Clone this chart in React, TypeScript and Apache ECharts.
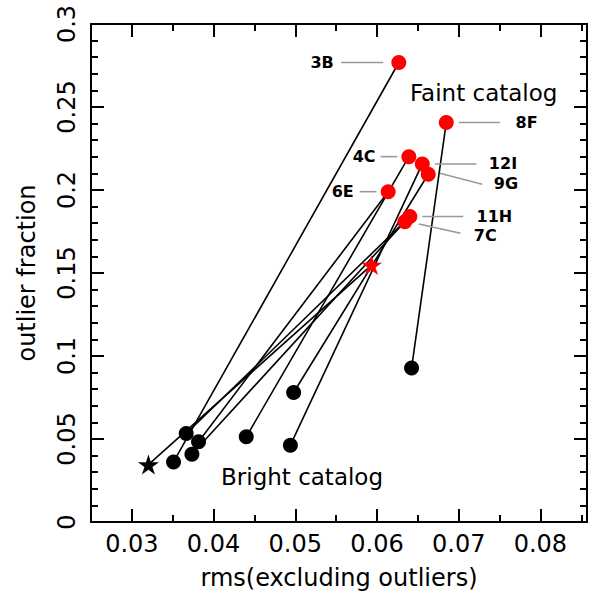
import React, { useEffect, useRef } from 'react';
import * as echarts from 'echarts';

// ---- data ----
const fields = ['3B', '4C', '6E', '7C', '8F', '9G', '11H', '12I'];
const brightRms = [0.0351, 0.0440, 0.03816, 0.03735, 0.06423, 0.0498, 0.03665, 0.0494];
const brightFrac = [0.0362, 0.0513, 0.0483, 0.0408, 0.0927, 0.0780, 0.0533, 0.0463];
const faintRms = [0.06267, 0.0639, 0.06137, 0.06341, 0.06848, 0.06627, 0.06402, 0.06554];
const faintFrac = [0.2768, 0.2201, 0.199, 0.1809, 0.2407, 0.2095, 0.184, 0.2157];
const meanBright = [0.03203, 0.0346];
const meanFaint = [0.05933, 0.1548];
const xTickValues = [0.03, 0.04, 0.05, 0.06, 0.07, 0.08];

// ---- annotation layout (pixel offsets from each faint point) ----
const labelLayout: Record<string, { l1: number[]; l2: number[]; t: number[]; align: string }> = {
  '3B': { l1: [-57.6, 0], l2: [-15.6, 0], t: [-65, 0], align: 'right' },
  '8F': { l1: [12.6, 0], l2: [53.6, 0], t: [69.3, 0], align: 'left' },
  '4C': { l1: [-28.3, 0], l2: [-11.6, 0], t: [-33.3, 0], align: 'right' },
  '12I': { l1: [12.6, 0], l2: [54.3, 0], t: [66.6, 0], align: 'left' },
  '9G': { l1: [11.6, -1], l2: [54, 10], t: [65.6, 9], align: 'left' },
  '6E': { l1: [-28.4, 0], l2: [-11.7, 0], t: [-34.4, 0], align: 'right' },
  '11H': { l1: [12.4, 0], l2: [53.4, 0], t: [66.7, 0], align: 'left' },
  '7C': { l1: [14, 2.3], l2: [55.7, 11.6], t: [69, 13.3], align: 'left' },
};

const FONT = '"DejaVu Sans", sans-serif';
const STAR = 'path://M50,0L61.23,34.55L97.55,34.55L68.17,55.9L79.39,90.45L50,69.1L20.61,90.45L31.83,55.9L2.45,34.55L38.77,34.55Z';
const X_MIN = 0.025;
const X_MAX = 0.0857;

export default function App() {
  const ref = useRef<HTMLDivElement>(null);
  useEffect(() => {
    if (!ref.current) return;
    const chart = echarts.init(ref.current, undefined, { renderer: 'svg' });
    const tickStyle = { color: '#000', width: 2 };
    const lineStyle = { color: '#000', width: 2 };
    const majorX = (pos: string, labels: boolean) => ({
      type: 'value',
      position: pos,
      min: X_MIN,
      max: X_MAX,
      axisLine: { show: true, onZero: false, lineStyle },
      axisTick: { show: true, inside: true, length: 13, lineStyle: tickStyle, customValues: xTickValues },
      axisLabel: labels
        ? {
            show: true,
            customValues: xTickValues,
            formatter: (v: number) => v.toFixed(2),
            fontSize: 24,
            fontFamily: FONT,
            color: '#000',
            margin: 10,
          }
        : { show: false },
      splitLine: { show: false },
      ...(labels
        ? {
            name: 'rms(excluding outliers)',
            nameLocation: 'middle',
            nameGap: 44,
            nameTextStyle: { fontSize: 24, fontFamily: FONT, color: '#000' },
          }
        : {}),
    });
    const minorX = (pos: string) => ({
      type: 'value',
      position: pos,
      min: X_MIN,
      max: X_MAX,
      interval: 0.005,
      axisLine: { show: false, onZero: false },
      axisTick: { show: true, inside: true, length: 7, lineStyle: tickStyle },
      axisLabel: { show: false },
      splitLine: { show: false },
    });
    const yAx = (pos: string, labels: boolean) => ({
      type: 'value',
      position: pos,
      min: 0,
      max: 0.3,
      interval: 0.05,
      axisLine: { show: true, onZero: false, lineStyle },
      axisTick: { show: true, inside: true, length: 13, lineStyle: tickStyle },
      minorTick: { show: true, splitNumber: 5, length: 7, lineStyle: tickStyle },
      axisLabel: labels
        ? {
            show: true,
            rotate: 90,
            formatter: (v: number) => String(+v.toFixed(2)),
            fontSize: 24,
            fontFamily: FONT,
            color: '#000',
            margin: 12,
          }
        : { show: false },
      splitLine: { show: false },
      minorSplitLine: { show: false },
      ...(labels
        ? {
            name: 'outlier fraction',
            nameLocation: 'middle',
            nameGap: 52,
            nameTextStyle: { fontSize: 24, fontFamily: FONT, color: '#000' },
          }
        : {}),
    });

    const pairSeries = fields.map((f, i) => ({
      type: 'line',
      name: f,
      data: [
        [brightRms[i], brightFrac[i]],
        [faintRms[i], faintFrac[i]],
      ],
      symbol: 'none',
      lineStyle: { color: '#000', width: 1.6 },
      silent: true,
      z: 2,
    }));

    chart.setOption({
      animation: false,
      grid: { left: 91, right: 5, top: 24, bottom: 73 },
      xAxis: [majorX('bottom', true), minorX('bottom'), majorX('top', false), minorX('top')],
      yAxis: [yAx('left', true), yAx('right', false)],
      series: [
        ...pairSeries,
        {
          type: 'line',
          data: [meanBright, meanFaint],
          symbol: 'none',
          lineStyle: { color: '#000', width: 1.6 },
          silent: true,
          z: 2,
        },
        {
          type: 'scatter',
          data: fields.map((_, i) => [brightRms[i], brightFrac[i]]),
          symbol: 'circle',
          symbolSize: 15,
          itemStyle: { color: '#000', opacity: 1 },
          z: 3,
        },
        {
          type: 'scatter',
          data: fields.map((_, i) => [faintRms[i], faintFrac[i]]),
          symbol: 'circle',
          symbolSize: 15,
          itemStyle: { color: '#ff0000', opacity: 1 },
          z: 3,
        },
        {
          type: 'scatter',
          data: [meanBright],
          symbol: STAR,
          symbolKeepAspect: true,
          symbolSize: 21,
          itemStyle: { color: '#000', opacity: 1 },
          z: 4,
        },
        {
          type: 'scatter',
          data: [meanFaint],
          symbol: STAR,
          symbolKeepAspect: true,
          symbolSize: 21,
          itemStyle: { color: '#ff0000', opacity: 1 },
          z: 4,
        },
      ],
    });

    const graphics: any[] = [];
    fields.forEach((f, i) => {
      const p = chart.convertToPixel({ gridIndex: 0 }, [faintRms[i], faintFrac[i]]) as number[];
      const L = labelLayout[f];
      graphics.push({
        type: 'line',
        shape: { x1: p[0] + L.l1[0], y1: p[1] + L.l1[1], x2: p[0] + L.l2[0], y2: p[1] + L.l2[1] },
        style: { stroke: '#999', lineWidth: 1.6 },
        z: 10,
      });
      graphics.push({
        type: 'text',
        x: p[0] + L.t[0],
        y: p[1] + L.t[1],
        style: {
          text: f,
          fontSize: 16,
          fontWeight: 'bold',
          fontFamily: FONT,
          fill: '#000',
          align: L.align,
          verticalAlign: 'middle',
        },
        z: 10,
      });
    });
    graphics.push({
      type: 'text',
      x: 410,
      y: 93,
      style: { text: 'Faint catalog', fontSize: 23, fontFamily: FONT, fill: '#000', align: 'left', verticalAlign: 'middle' },
      z: 10,
    });
    graphics.push({
      type: 'text',
      x: 221,
      y: 477,
      style: { text: 'Bright catalog', fontSize: 23, fontFamily: FONT, fill: '#000', align: 'left', verticalAlign: 'middle' },
      z: 10,
    });
    chart.setOption({ graphic: graphics });

    return () => chart.dispose();
  }, []);
  return (
    <div
      ref={ref}
      style={{ position: 'fixed', left: 0, top: 0, width: 592, height: 595, background: '#fff' }}
    />
  );
}
